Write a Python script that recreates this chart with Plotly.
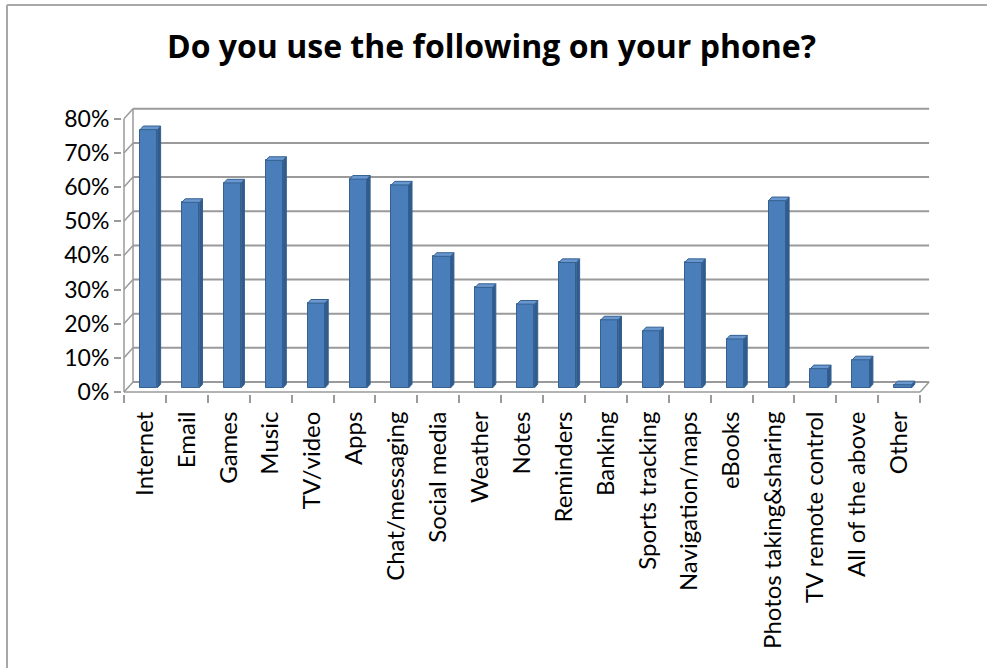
import plotly.graph_objects as go

# ---- data ----
categories = ["Internet", "Email", "Games", "Music", "TV/video", "Apps", "Chat/messaging",
              "Social media", "Weather", "Notes", "Reminders", "Banking", "Sports tracking",
              "Navigation/maps", "eBooks", "Photos taking&sharing", "TV remote control",
              "All of the above", "Other"]
values = [0.756, 0.543, 0.600, 0.666, 0.248, 0.611, 0.594, 0.385, 0.294, 0.245, 0.367,
          0.199, 0.167, 0.367, 0.143, 0.548, 0.056, 0.082, 0.009]
y_ticks = [0, 0.1, 0.2, 0.3, 0.4, 0.5, 0.6, 0.7, 0.8]
y_ticktext = ["0%", "10%", "20%", "30%", "40%", "50%", "60%", "70%", "80%"]
title_text = "Do you use the following on your phone?"

# ---- geometry (pixel scale helpers) ----
PXX = 41.9      # px per category
PXY = 341.5     # px per 1.0 (100%)
DX = 9 / PXX    # depth offset of back wall (x, category units)
DY = 10 / PXY   # depth offset of back wall (y units)
n = len(categories)
xs = list(range(n))

F0, F1 = 0.42, 0.78          # bar depth span (fraction of full depth)
BW = 0.413                   # bar face width (category units)
FRONT = "#4a7ebb"
SIDE = "#2f5b8f"
TOP = "#6a97cf"
EDGE = "#35608f"
GRID = "#9a9a9a"

fig = go.Figure()

# front faces of the bars
bx = [i + F0 * DX for i in xs]
base = F0 * DY
fig.add_trace(go.Bar(x=bx, y=values, base=[base] * n, width=BW,
                     marker=dict(color=FRONT, line=dict(color=EDGE, width=1)),
                     hoverinfo="skip", showlegend=False))

# side and top faces (computed from the data)
ddx = (F1 - F0) * DX
ddy = (F1 - F0) * DY
sx, sy, tx, ty = [], [], [], []
for c, v in zip(bx, values):
    xl, xr = c - BW / 2, c + BW / 2
    y0, y1 = base, base + v
    sx += [xr, xr + ddx, xr + ddx, xr, xr, None]
    sy += [y0, y0 + ddy, y1 + ddy, y1, y0, None]
    tx += [xl, xl + ddx, xr + ddx, xr, xl, None]
    ty += [y1, y1 + ddy, y1 + ddy, y1, y1, None]
fig.add_trace(go.Scatter(x=sx, y=sy, mode="lines", fill="toself", fillcolor=SIDE,
                         line=dict(color=EDGE, width=1), hoverinfo="skip", showlegend=False))
fig.add_trace(go.Scatter(x=tx, y=ty, mode="lines", fill="toself", fillcolor=TOP,
                         line=dict(color=EDGE, width=1), hoverinfo="skip", showlegend=False))

# walls / floor (shapes below traces)
shapes = []
xL, xR = -0.5, n - 0.5
for t in y_ticks:
    shapes.append(dict(type="line", xref="x", yref="y", x0=xL + DX, x1=xR + DX,
                       y0=t + DY, y1=t + DY, line=dict(color=GRID, width=2), layer="below"))
    shapes.append(dict(type="line", xref="x", yref="y", x0=xL, x1=xL + DX,
                       y0=t, y1=t + DY, line=dict(color=GRID, width=1.5), layer="below"))
shapes.append(dict(type="line", xref="x", yref="y", x0=xL + DX, x1=xL + DX,
                   y0=DY, y1=y_ticks[-1] + DY, line=dict(color=GRID, width=1.5), layer="below"))
shapes.append(dict(type="line", xref="x", yref="y", x0=xL, x1=xL,
                   y0=0, y1=y_ticks[-1], line=dict(color=GRID, width=1.5), layer="below"))
shapes.append(dict(type="line", xref="x", yref="y", x0=xL, x1=xR,
                   y0=0, y1=0, line=dict(color=GRID, width=1.5), layer="below"))
shapes.append(dict(type="line", xref="x", yref="y", x0=xR, x1=xR + DX,
                   y0=0, y1=DY, line=dict(color=GRID, width=1.5), layer="below"))

# outer chart border (left and top)
L, R, T, B = 122, 47, 100, 274
W, H = 987, 668
pw, ph = W - L - R, H - T - B
def px(xp): return (xp - L) / pw
def py(yp): return (H - B - yp) / ph
shapes.append(dict(type="line", xref="paper", yref="paper", x0=px(7), x1=px(7),
                   y0=py(700), y1=py(5), line=dict(color="#a8a8a8", width=2)))
shapes.append(dict(type="line", xref="paper", yref="paper", x0=px(7), x1=px(1000),
                   y0=py(5), y1=py(5), line=dict(color="#a8a8a8", width=2)))

FONT = "Lato"
fig.update_layout(
    width=W, height=H,
    margin=dict(l=L, r=R, t=T, b=B),
    paper_bgcolor="white", plot_bgcolor="rgba(0,0,0,0)",
    shapes=shapes,
    title=dict(text=title_text, xref="container", yref="container",
               x=491.5 / W, y=1 - 47 / H, xanchor="center", yanchor="middle",
               font=dict(family="Open Sans", size=32, color="black", weight="bold")),
    xaxis=dict(range=[-0.5 - 2 / PXX, -0.5 + (W - R - 124) / PXX],
               tickmode="array", tickvals=xs, ticktext=categories, tickangle=-90,
               ticks="outside", ticklen=7, tickcolor="rgba(0,0,0,0)",
               minor=dict(tickmode="array", tickvals=[i - 0.5 for i in range(n + 1)],
                          ticks="outside", ticklen=8, tickcolor=GRID, tickwidth=1.5),
               tickfont=dict(family=FONT, size=24, color="black"),
               showgrid=False, zeroline=False, showline=False, fixedrange=True),
    yaxis=dict(range=[-2 / PXY, (H - B - 2 - T) / PXY],
               tickmode="array", tickvals=y_ticks, ticktext=y_ticktext,
               ticks="outside", ticklen=7, tickcolor=GRID, tickwidth=1.5,
               tickfont=dict(family=FONT, size=23, color="black"),
               showgrid=False, zeroline=False, showline=False, fixedrange=True),
    bargap=0,
)

fig.write_html("out.html")
